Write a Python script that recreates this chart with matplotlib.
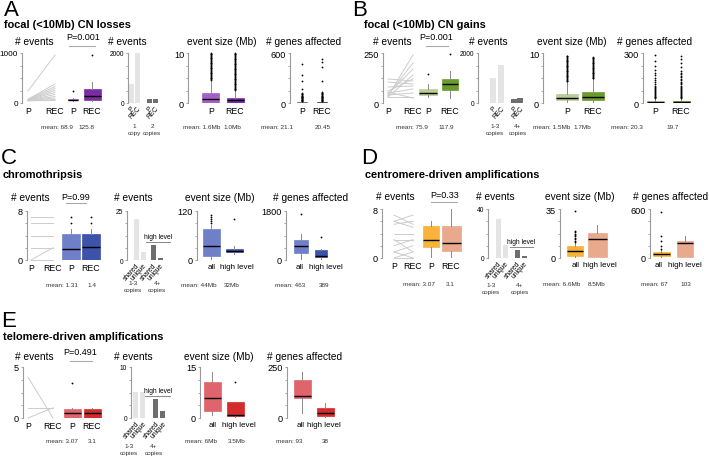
import numpy as np
import matplotlib.pyplot as plt
from matplotlib.lines import Line2D

plt.rcParams['font.family'] = ['Liberation Sans', 'DejaVu Sans']

W, H = 709, 460

# ---------------- data ----------------
# box stats are [whisker low, q1, median, q3, whisker high]

# A: focal CN losses
a_pair_p = [240, 75, 70, 65, 60, 60, 55, 50, 50, 45, 45]
a_pair_rec = [960, 380, 330, 290, 250, 210, 170, 130, 100, 70, 50]
a_box_p = [45, 55, 65, 75, 95]
a_out_p = [250]
a_box_rec = [40, 70, 150, 280, 420]
a_out_rec = [970]
a_mean = ['68.9', '125.8']
a_bar_p = [780, 160]
a_bar_rec = [2000, 175]
a_bar_groups = ['1\ncopy', '2\ncopies']
a_size_p = [0, 0.05, 0.8, 2.0, 4.5]
a_size_out_p = [4.6, 4.75, 4.95, 5.1, 5.3, 5.45, 5.6, 5.8, 5.95, 6.1, 6.3, 6.45, 6.6, 6.8, 6.95,
                7.1, 7.3, 7.45, 7.6, 7.8, 7.95, 8.1, 8.3, 8.45, 8.6, 8.8, 8.95, 9.1, 9.3, 9.45,
                9.6, 9.8, 9.9, 10.0]
a_size_rec = [0, 0.1, 0.55, 1.1, 2.5]
a_size_out_rec = [2.6, 2.75, 2.9, 3.1, 3.25, 3.4, 3.6, 3.75, 3.9, 4.1, 4.25, 4.4, 4.6, 4.75, 4.9,
                  5.1, 5.25, 5.4, 5.6, 5.75, 5.9, 6.1, 6.25, 6.4, 6.6, 6.75, 6.9, 7.1, 7.25, 7.4,
                  7.6, 7.75, 7.9, 8.1, 8.25, 8.4, 8.6, 8.75, 8.9, 9.1, 9.25, 9.4, 9.6, 9.75, 9.9, 10.0]
a_size_mean = ['1.6Mb', '1.0Mb']
a_genes_p = [0, 0, 2, 8, 20]
a_genes_out_p = [24, 28, 33, 37, 42, 47, 52, 57, 62, 67, 72, 78, 84, 90, 96, 103, 110, 118,
                 170, 265, 335, 465]
a_genes_rec = [0, 0, 2, 8, 20]
a_genes_out_rec = [24, 28, 33, 37, 42, 47, 52, 57, 62, 67, 72, 78, 84, 90, 96, 103, 110, 118,
                   125, 132, 265, 430, 495, 530]
a_genes_mean = ['21.1', '20.45']

# B: focal CN gains
b_pair_p = [35, 40, 45, 30, 60, 120, 105, 80, 50, 40, 30, 55]
b_pair_rec = [240, 200, 170, 140, 120, 110, 95, 85, 70, 50, 30, 25]
b_box_p = [30, 38, 48, 70, 95]
b_out_p = [145]
b_box_rec = [25, 66, 95, 120, 162]
b_out_rec = [245]
b_mean = ['75.9', '117.9']
b_bar_p = [1000, 170]
b_bar_rec = [1530, 190]
b_bar_groups = ['1-3\ncopies', '4+\ncopies']
b_size_p = [0, 0.6, 1.0, 1.9, 4.2]
b_size_out_p = [4.35, 4.5, 4.7, 4.85, 5.0, 5.2, 5.35, 5.5, 5.7, 5.85, 6.0, 6.2, 6.35, 6.5, 6.7,
                6.85, 7.0, 7.2, 7.35, 7.5, 7.7, 7.85, 8.0, 8.2, 8.35, 8.5, 8.7, 8.85, 9.0, 9.2,
                9.35, 9.5]
b_size_rec = [0, 0.6, 1.2, 2.3, 4.8]
b_size_out_rec = [4.95, 5.1, 5.3, 5.45, 5.6, 5.8, 5.95, 6.1, 6.3, 6.45, 6.6, 6.8, 6.95, 7.1,
                  7.3, 7.45, 7.6, 7.8, 7.95, 8.1, 8.3, 8.45, 8.6, 8.8, 8.95, 9.1, 9.3]
b_size_mean = ['1.5Mb', '1.7Mb']
b_genes_p = [0, 1, 4, 12, 28]
b_genes_out_p = [31, 35, 39, 44, 49, 54, 59, 64, 70, 76, 82, 89, 96, 104, 112, 124, 138,
                 152, 166, 182, 200, 222, 250, 288]
b_genes_rec = [0, 1, 4, 12, 28]
b_genes_out_rec = [31, 35, 39, 44, 49, 54, 59, 64, 70, 76, 82, 89, 96, 104, 112, 120, 128,
                   136, 145, 154, 163, 172, 182, 195, 215, 240, 262, 285]
b_genes_mean = ['20.3', '19.7']

# C: chromothripsis
c_pair_p = [7, 6, 4, 2, 0, 0]
c_pair_rec = [7, 6, 4, 2, 2, 0]
c_box_p = [0, 0, 1.8, 4.2, 5]
c_out_p = [6, 7]
c_box_rec = [0, 0, 2.1, 4.2, 5]
c_out_rec = [6, 7]
c_mean = ['1.31', '1.4']
c_bar_low = [21, 4]
c_bar_high = [7.5, 1]
c_bar_groups = ['1-3\ncopies', '4+\ncopies']
c_size_all = [0, 10, 34, 77, 85]
c_size_out_all = [91, 96, 101, 106, 110]
c_size_high = [15, 19, 22, 26, 34]
c_size_out_high = [100]
c_size_mean = ['44Mb', '32Mb']
c_genes_all = [0, 250, 500, 720, 970]
c_genes_out_all = [1690]
c_genes_high = [0, 110, 140, 360, 420]
c_genes_out_high = [860]
c_genes_mean = ['463', '389']

# D: centromere-driven amplifications
d_pair_p = [7, 6, 6, 5.5, 4, 3, 3, 2, 1, 1, 0, 0]
d_pair_rec = [5.5, 7, 5, 6, 4, 1, 3, 3, 2, 0, 1, 0]
d_box_p = [0, 1.8, 3.0, 5.2, 6]
d_out_p = []
d_box_rec = [0, 1.1, 2.5, 5.2, 8]
d_out_rec = []
d_mean = ['3.07', '3.1']
d_bar_low = [32, 11]
d_bar_high = [6.3, 1.6]
d_bar_groups = ['1-3\ncopies', '4+\ncopies']
d_size_all = [0.5, 1.4, 4.9, 8.4, 10.5]
d_size_out_all = [11.5, 12.5, 13.5, 14.5, 15.5, 16.5, 17.5, 18.5, 19.5, 33.6]
d_size_high = [0.5, 0.7, 13.3, 18.2, 23.8]
d_size_out_high = []
d_size_mean = ['6.6Mb', '8.5Mb']
d_genes_all = [5, 24, 49, 73, 105]
d_genes_out_all = [110, 147, 208, 270, 563]
d_genes_high = [12, 12, 184, 208, 270]
d_genes_out_high = []
d_genes_mean = ['67', '103']

# E: telomere-driven amplifications
e_pair_p = [4, 1, 0]
e_pair_rec = [0, 1, 1]
e_box_p = [0, 0, 0.5, 0.9, 1]
e_out_p = [3.4]
e_box_rec = [0, 0, 0.5, 0.9, 1]
e_out_rec = []
e_mean = ['3.07', '3.1']
e_bar_low = [5.1, 5.1]
e_bar_high = [3.8, 1.3]
e_bar_groups = ['1-3\ncopies', '4+\ncopies']
e_size_all = [0.8, 2.0, 5.9, 10.6, 13.5]
e_size_out_all = []
e_size_high = [0.3, 0.5, 0.9, 4.6, 4.8]
e_size_out_high = [10.6]
e_size_mean = ['6Mb', '3.5Mb']
e_genes_all = [25, 98, 108, 186, 225]
e_genes_out_all = []
e_genes_high = [0, 10, 25, 49, 74]
e_genes_out_high = []
e_genes_mean = ['93', '38']

LIGHT_BAR = '#e4e4e4'
DARK_BAR = '#6e6e6e'
SPINE = '#9a9a9a'

fig = plt.figure(figsize=(W / 100, H / 100), dpi=100)


def txt(x, y, s, size, **kw):
    kw.setdefault('ha', 'center')
    kw.setdefault('va', 'center')
    fig.text(x / W, 1 - y / H, s, fontsize=size, **kw)


def hline(x1, x2, y, color='#aaaaaa', lw=0.8):
    fig.add_artist(Line2D([x1 / W, x2 / W], [1 - y / H, 1 - y / H],
                          transform=fig.transFigure, color=color, lw=lw))


def new_ax(l, r, top, bot, ymax, tsize=6.2):
    ax = fig.add_axes([l / W, 1 - bot / H, (r - l) / W, (bot - top) / H])
    ax.set_xlim(l, r)
    ax.set_ylim(0, ymax)
    for s in ['top', 'right', 'bottom']:
        ax.spines[s].set_visible(False)
    ax.spines['left'].set_color(SPINE)
    ax.spines['left'].set_linewidth(0.8)
    ax.set_yticks(np.linspace(0, ymax, 5))
    ax.set_yticklabels(['0', '', '', '', str(ymax)])
    ax.tick_params(axis='y', length=1.6, width=0.6, color=SPINE, pad=1.2, labelsize=tsize)
    ax.tick_params(axis='x', length=0, pad=2.5, labelsize=6.3)
    ax.patch.set_alpha(0)
    return ax


def boxes(ax, stats, outs, xs, ws, colors):
    st = [dict(whislo=s[0], q1=s[1], med=s[2], q3=s[3], whishi=s[4], fliers=o)
          for s, o in zip(stats, outs)]
    bp = ax.bxp(st, positions=xs, widths=ws, patch_artist=True, showcaps=False,
                manage_ticks=False,
                boxprops=dict(linewidth=0.5),
                whiskerprops=dict(color='#8a8a8a', linewidth=0.7),
                medianprops=dict(color='black', linewidth=1.0),
                flierprops=dict(marker='o', markersize=1.3, markerfacecolor='black',
                                markeredgecolor='none', linestyle='none'))
    for b, c in zip(bp['boxes'], colors):
        b.set_facecolor(c)
        b.set_edgecolor(c)
    for f in bp['fliers']:
        f.set_clip_on(False)


def mean_text(y, xend, x2, vals):
    txt(xend, y, 'mean: ' + vals[0], 4.6, ha='right', color='#333333')
    txt(x2, y, vals[1], 4.6, color='#333333')


def panel(cfg):
    yt, yb = cfg['ytop'], cfg['ybot']
    txt(cfg['letter_xy'][0], cfg['letter_xy'][1], cfg['letter'], 16)
    txt(cfg['title_xy'][0], cfg['title_xy'][1], cfg['title'], 7.9, ha='left', fontweight='bold')
    col = cfg['colors']

    # paired lines + boxes
    p = cfg['pair']
    ax = new_ax(p['l'], p['r'], yt, yb, p['ymax'], p.get('tsize', 6.6))
    for v0, v1 in zip(p['p'], p['rec']):
        ax.plot([p['px'], p['rx']], [v0, v1], color='#cccccc', lw=0.7, clip_on=False)
    boxes(ax, p['stats'], p['outs'], p['bx'], p['bw'], col)
    ax.set_xticks([p['px'], p['rx']] + p['bx'])
    ax.set_xticklabels(['P', 'REC', 'P', 'REC'])
    txt(p['sub'], cfg['ysub'], '# events', 7.3)
    txt(p['pv'][0], p['pv'][1], p['pv'][2], 6.5)
    hline(p['brk'][0], p['brk'][1], p['brk'][2])
    mean_text(cfg['ymean'], p['mx'][0], p['mx'][1], p['mean'])

    # bars
    b = cfg['bars']
    ax = new_ax(b['l'], b['r'], yt, yb, b['ymax'], 4.8)
    vals = [b['v1'][0], b['v1'][1], b['v2'][0], b['v2'][1]]
    ax.bar(b['bx'], vals, width=b['w'],
           color=[LIGHT_BAR, LIGHT_BAR, DARK_BAR, DARK_BAR])
    ax.set_xticks(b['bx'])
    ax.set_xticklabels(b['labels'], rotation=48, ha='right', va='top',
                       rotation_mode='anchor', fontsize=4.8)
    ax.tick_params(axis='x', pad=1)
    txt(b['sub'], cfg['ysub'], '# events', 7.3)
    for gx, g in zip(b['gx'], b['groups']):
        txt(gx, b['gy'], g, 4.6, va='top', linespacing=1.6, color='#333333')
    if b.get('hl'):
        hx, hy, h1, h2 = b['hl']
        txt(hx, hy, 'high level', 4.8)
        hline(h1, h2, hy + 4.5, color='#888888', lw=0.7)

    # event size / genes affected
    for key, name in [('size', 'event size (Mb)'), ('genes', '# genes affected')]:
        s = cfg[key]
        ax = new_ax(s['l'], s['r'], yt, yb, s['ymax'], 6.6)
        boxes(ax, s['stats'], s['outs'], s['bx'], s['bw'], col)
        ax.set_xticks(s.get('lx', s['bx']))
        ax.set_xticklabels(cfg['cats'], fontsize=cfg['cat_size'])
        txt(s['sub'], cfg['ysub'], name, 7.3)
        mean_text(cfg['ymean'], s['mx'][0], s['mx'][1], s['mean'])


panels = [
    dict(letter='A', letter_xy=(11, 11), title='focal (<10Mb) CN losses', title_xy=(4, 25),
         ytop=54, ybot=104, ysub=42, ymean=128, colors=('#a560c6', '#7b2ea4'),
         cats=['P', 'REC'], cat_size=6.3,
         pair=dict(l=22, r=102, px=28, rx=55, bx=[73, 92], bw=[10, 17], ymax=1000, sub=34, tsize=5.9,
                   p=a_pair_p, rec=a_pair_rec, stats=[a_box_p, a_box_rec], outs=[a_out_p, a_out_rec],
                   pv=(83, 38, 'P=0.001'), brk=(69, 95, 47), mx=(73, 86), mean=a_mean),
         bars=dict(l=128, r=162, ymax=2000, bx=[131, 137, 149, 155], w=5,
                   v1=[a_bar_p[0], a_bar_rec[0]], v2=[a_bar_p[1], a_bar_rec[1]],
                   labels=['P', 'REC', 'P', 'REC'], sub=127, gx=[134, 152], gy=124,
                   groups=a_bar_groups),
         size=dict(l=188, r=250, ymax=10, bx=[211, 235], bw=[17, 17], sub=222,
                   stats=[a_size_p, a_size_rec], outs=[a_size_out_p, a_size_out_rec],
                   mx=(220, 232), mean=a_size_mean),
         genes=dict(l=290, r=335, ymax=600, bx=[302, 322], bw=[10, 10], sub=304,
                    stats=[a_genes_p, a_genes_rec], outs=[a_genes_out_p, a_genes_out_rec],
                    mx=(293, 323), mean=a_genes_mean)),
    dict(letter='B', letter_xy=(360, 11), title='focal (<10Mb) CN gains', title_xy=(364, 25),
         ytop=54, ybot=104, ysub=42, ymean=128, colors=('#b9cd96', '#6b9a2f'),
         cats=['P', 'REC'], cat_size=6.3,
         pair=dict(l=383, r=462, px=388, rx=413, bx=[428, 450], bw=[18, 16], ymax=250, sub=392,
                   p=b_pair_p, rec=b_pair_rec, stats=[b_box_p, b_box_rec], outs=[b_out_p, b_out_rec],
                   pv=(436, 38, 'P=0.001'), brk=(426, 448, 47), mx=(428, 446), mean=b_mean),
         bars=dict(l=478, r=528, ymax=2000, bx=[493, 501, 514, 520], w=5.5,
                   v1=[b_bar_p[0], b_bar_rec[0]], v2=[b_bar_p[1], b_bar_rec[1]],
                   labels=['P', 'REC', 'P', 'REC'], sub=488, gx=[495, 518], gy=124,
                   groups=b_bar_groups),
         size=dict(l=543, r=610, ymax=10, bx=[567, 593], bw=[22, 22], sub=572,
                   stats=[b_size_p, b_size_rec], outs=[b_size_out_p, b_size_out_rec],
                   mx=(570, 582), mean=b_size_mean),
         genes=dict(l=643, r=700, ymax=300, bx=[655, 681], bw=[17, 17], sub=655,
                    stats=[b_genes_p, b_genes_rec], outs=[b_genes_out_p, b_genes_out_rec],
                    mx=(643, 673), mean=b_genes_mean)),
    dict(letter='C', letter_xy=(9, 158), title='chromothripsis', title_xy=(3, 175),
         ytop=212, ybot=261, ysub=198, ymean=286, colors=('#6f80c8', '#3d52a9'),
         cats=['all', 'high level'], cat_size=5.8,
         pair=dict(l=27, r=102, px=31, rx=53, bx=[71, 91], bw=[18, 18], ymax=8, sub=30,
                   p=c_pair_p, rec=c_pair_rec, stats=[c_box_p, c_box_rec], outs=[c_out_p, c_out_rec],
                   pv=(76, 198, 'P=0.99'), brk=(66, 86, 204), mx=(78, 92), mean=c_mean),
         bars=dict(l=127, r=172, ymax=25, bx=[136, 143, 153, 160], w=5,
                   v1=c_bar_low, v2=c_bar_high,
                   labels=['shared', 'unique', 'shared', 'unique'], sub=133, gx=[133, 157], gy=281,
                   groups=c_bar_groups, hl=(158, 238, 146, 170)),
         size=dict(l=197, r=252, ymax=120, bx=[211, 234], bw=[17, 17], lx=[212, 237], sub=220,
                   stats=[c_size_all, c_size_high], outs=[c_size_out_all, c_size_out_high],
                   mx=(217, 232), mean=c_size_mean),
         genes=dict(l=286, r=337, ymax=1800, bx=[301, 321], bw=[14, 12], lx=[300, 326], sub=311,
                    stats=[c_genes_all, c_genes_high], outs=[c_genes_out_all, c_genes_out_high],
                    mx=(305, 324), mean=c_genes_mean)),
    dict(letter='D', letter_xy=(369, 158), title='centromere-driven amplifications', title_xy=(365, 175),
         ytop=210, ybot=259, ysub=197, ymean=284, colors=('#f9b23a', '#e8a98c'),
         cats=['all', 'high level'], cat_size=5.8,
         pair=dict(l=382, r=462, px=394, rx=413, bx=[431, 451], bw=[16, 19], ymax=8, sub=395,
                   p=d_pair_p, rec=d_pair_rec, stats=[d_box_p, d_box_rec], outs=[d_out_p, d_out_rec],
                   pv=(445, 195, 'P=0.33'), brk=(431, 457, 203), mx=(435, 450), mean=d_mean),
         bars=dict(l=488, r=535, ymax=40, bx=[498, 505, 517, 524], w=5,
                   v1=d_bar_low, v2=d_bar_high,
                   labels=['shared', 'unique', 'shared', 'unique'], sub=495, gx=[491, 520], gy=283,
                   groups=d_bar_groups, hl=(521, 243, 510, 533)),
         size=dict(l=560, r=615, ymax=35, bx=[575, 597], bw=[16, 19], lx=[576, 600], sub=580,
                   stats=[d_size_all, d_size_high], outs=[d_size_out_all, d_size_out_high],
                   mx=(580, 597), mean=d_size_mean),
         genes=dict(l=650, r=702, ymax=600, bx=[661, 685], bw=[17, 16], lx=[659, 685], sub=671,
                    stats=[d_genes_all, d_genes_high], outs=[d_genes_out_all, d_genes_out_high],
                    mx=(668, 686), mean=d_genes_mean)),
    dict(letter='E', letter_xy=(9, 322), title='telomere-driven amplifications', title_xy=(3, 337),
         ytop=368, ybot=419, ysub=357, ymean=442, colors=('#e0646b', '#d42c2c'),
         cats=['all', 'high level'], cat_size=5.8,
         pair=dict(l=23, r=102, px=28, rx=53, bx=[72, 92], bw=[17, 17], ymax=5, sub=34,
                   p=e_pair_p, rec=e_pair_rec, stats=[e_box_p, e_box_rec], outs=[e_out_p, e_out_rec],
                   pv=(80, 353, 'P=0.491'), brk=(70, 92, 362), mx=(78, 92), mean=e_mean),
         bars=dict(l=131, r=175, ymax=10, bx=[135.5, 142.5, 155.5, 162.5], w=5,
                   v1=e_bar_low, v2=e_bar_high,
                   labels=['shared', 'unique', 'shared', 'unique'], sub=133, gx=[129, 154], gy=444,
                   groups=e_bar_groups, hl=(158, 392, 145, 170)),
         size=dict(l=200, r=252, ymax=15, bx=[212, 235], bw=[17, 17], lx=[213, 239], sub=219,
                   stats=[e_size_all, e_size_high], outs=[e_size_out_all, e_size_out_high],
                   mx=(217, 237), mean=e_size_mean),
         genes=dict(l=287, r=337, ymax=250, bx=[302, 325], bw=[17, 17], lx=[301, 324], sub=305,
                    stats=[e_genes_all, e_genes_high], outs=[e_genes_out_all, e_genes_out_high],
                    mx=(302, 325), mean=e_genes_mean)),
]

for cfg in panels:
    panel(cfg)

fig.savefig('out.png', dpi=100)
